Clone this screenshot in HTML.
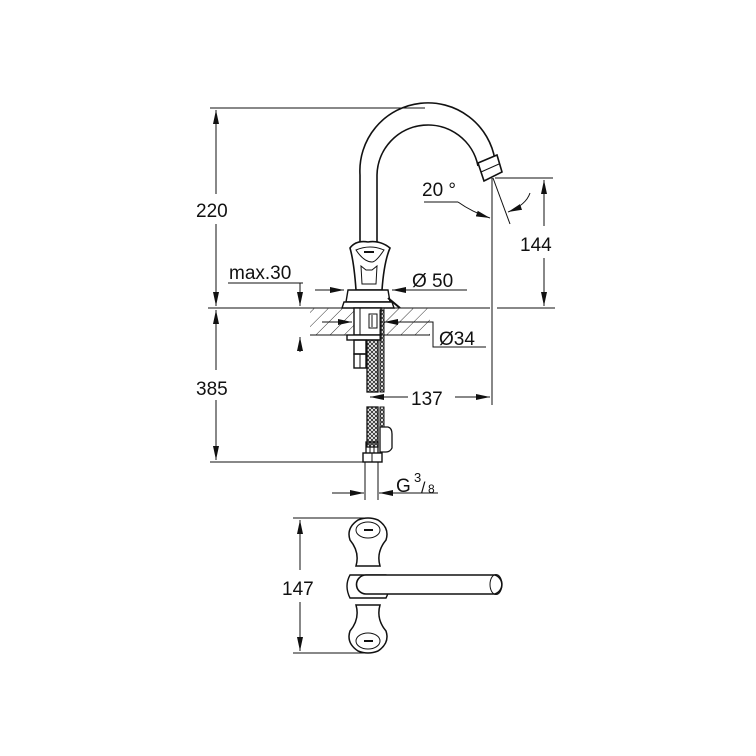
<!DOCTYPE html>
<html><head><meta charset="utf-8"><style>
html,body{margin:0;padding:0;background:#fff}
svg{display:block}
text{font-family:"Liberation Sans",sans-serif;fill:#111}
</style></head><body>
<svg width="756" height="756" viewBox="0 0 756 756" xmlns="http://www.w3.org/2000/svg">
<defs>
<marker id="a" viewBox="0 0 14 8" refX="14" refY="4" markerWidth="14" markerHeight="8" orient="auto-start-reverse" markerUnits="userSpaceOnUse"><path d="M0,1 L14,4 L0,7z" fill="#111"/></marker>
<pattern id="h" width="10" height="10" patternUnits="userSpaceOnUse" patternTransform="rotate(45)"><line x1="0" y1="0" x2="0" y2="10" stroke="#333" stroke-width="1"/></pattern>
<pattern id="x" width="4" height="4" patternUnits="userSpaceOnUse"><path d="M0,0L4,4M4,0L0,4" stroke="#222" stroke-width="0.8"/></pattern>
</defs>
<g stroke="#111" stroke-width="1" fill="none">
<line x1="210" y1="108" x2="425" y2="108"/>
<line x1="216" y1="110" x2="216" y2="194" marker-start="url(#a)"/>
<line x1="216" y1="224" x2="216" y2="306" marker-end="url(#a)"/>
<line x1="208" y1="308" x2="490" y2="308"/>
<line x1="497" y1="308" x2="555" y2="308"/>
<line x1="216" y1="310" x2="216" y2="370" marker-start="url(#a)"/>
<line x1="216" y1="400" x2="216" y2="460" marker-end="url(#a)"/>
<line x1="210" y1="462" x2="366" y2="462"/>
<path d="M360,242 L360,175 A68,68 0 0 1 495,160 L498,160" stroke-width="1.6"/>
<path d="M377,242 L377,175 A51,51 0 0 1 478,166" stroke-width="1.6"/>
<path d="M478,163 L497,155 L502,172 L484,181 Z" stroke-width="1.6" fill="#fff"/>
<line x1="481" y1="172" x2="499" y2="164"/>
<line x1="492" y1="178" x2="492" y2="405"/>
<line x1="495" y1="178" x2="553" y2="178"/>
<line x1="544" y1="180" x2="544" y2="226" marker-start="url(#a)"/>
<line x1="544" y1="258" x2="544" y2="306" marker-end="url(#a)"/>
<line x1="493" y1="178" x2="510" y2="224"/>
<line x1="424" y1="202" x2="458" y2="202"/>
<path d="M458,202 Q472,212 490,218" marker-end="url(#a)"/>
<path d="M530,193 Q526,205 508,212" marker-end="url(#a)"/>
<path d="M350,248 Q356,240 368,242 Q380,240 390,248 Q384,262 382,290 L356,290 Q354,262 350,248 Z" stroke-width="1.6" fill="#fff"/>
<path d="M356,250 Q370,244 384,250 Q376,262 372,262 Q364,262 356,250Z"/>
<line x1="364" y1="252" x2="374" y2="252" stroke-width="2"/>
<path d="M361,266 L366,270 L372,270 L377,266 L376,284 L362,284 Z"/>
<path d="M348,290 L388,290 L390,302 L346,302 Z" stroke-width="1.4" fill="#fff"/>
<path d="M344,302 L392,302 L394,308 L342,308Z" stroke-width="1.4" fill="#fff"/>
<line x1="388" y1="298" x2="400" y2="308" stroke-width="2"/>
<line x1="228" y1="283" x2="303" y2="283"/>
<line x1="300" y1="283" x2="300" y2="306" marker-end="url(#a)"/>
<line x1="300" y1="352" x2="300" y2="337" marker-end="url(#a)"/>
<line x1="315" y1="290" x2="344" y2="290" marker-end="url(#a)"/>
<line x1="467" y1="290" x2="392" y2="290" marker-end="url(#a)"/>
<rect x="310" y="308" width="120" height="27" fill="url(#h)" stroke="none"/>
<line x1="310" y1="335" x2="430" y2="335"/>
<rect x="354" y="308" width="27" height="27" fill="#fff" stroke-width="1.4"/>
<line x1="360" y1="308" x2="360" y2="335"/>
<rect x="369" y="314" width="8" height="14"/>
<line x1="372" y1="315" x2="372" y2="327"/>
<line x1="322" y1="322" x2="352" y2="322" marker-end="url(#a)"/>
<line x1="430" y1="322" x2="384" y2="322" marker-end="url(#a)"/>
<polyline points="430,322 433,322 433,347 486,347"/>
<rect x="347" y="335" width="34" height="5" fill="#fff" stroke-width="1.4"/>
<rect x="354" y="340" width="12" height="14" stroke-width="1.4"/>
<rect x="354" y="354" width="12" height="14" stroke-width="1.4"/>
<line x1="360" y1="354" x2="360" y2="368"/>
<rect x="367" y="340" width="11" height="52" fill="url(#x)" stroke-width="1.3"/>
<rect x="380" y="310" width="4" height="82" fill="url(#x)" stroke-width="1"/>
<rect x="367" y="407" width="11" height="40" fill="url(#x)" stroke-width="1.3"/>
<rect x="380" y="407" width="4" height="20" fill="url(#x)" stroke-width="1"/>
<path d="M380,427 L388,427 Q392,428 392,434 L392,448 Q390,452 386,452 L380,452 Z" stroke-width="1.3" fill="#fff"/>
<rect x="366" y="442" width="12" height="12" stroke-width="1.3"/>
<line x1="370" y1="442" x2="370" y2="454"/><line x1="374" y1="442" x2="374" y2="454"/>
<rect x="363" y="453" width="19" height="9" stroke-width="1.4" fill="#fff"/>
<line x1="372" y1="453" x2="372" y2="462"/>
<line x1="408" y1="397" x2="370" y2="397" marker-end="url(#a)"/>
<line x1="455" y1="397" x2="490" y2="397" marker-end="url(#a)"/>
<line x1="365" y1="462" x2="365" y2="500"/>
<line x1="378" y1="462" x2="378" y2="500"/>
<line x1="332" y1="493" x2="364" y2="493" marker-end="url(#a)"/>
<line x1="438" y1="493" x2="379" y2="493" marker-end="url(#a)"/>
<line x1="293" y1="518" x2="370" y2="518"/>
<line x1="293" y1="653" x2="370" y2="653"/>
<line x1="300" y1="520" x2="300" y2="570" marker-start="url(#a)"/>
<line x1="300" y1="602" x2="300" y2="651" marker-end="url(#a)"/>
<path d="M350,575 Q344,586 350,598 L386,598 Q392,586 386,575Z" stroke-width="1.4" fill="#fff"/>
<path d="M358,520 Q368,516 378,520 Q390,528 386,540 Q376,552 380,566 L356,566 Q360,552 350,540 Q346,528 358,520Z" stroke-width="1.5" fill="#fff"/>
<ellipse cx="368" cy="530" rx="12" ry="8"/>
<line x1="364" y1="530" x2="373" y2="530" stroke-width="2"/>
<path d="M358,651 Q368,655 378,651 Q390,643 386,631 Q376,619 380,605 L356,605 Q360,619 350,631 Q346,643 358,651Z" stroke-width="1.5" fill="#fff"/>
<ellipse cx="368" cy="641" rx="12" ry="8"/>
<line x1="364" y1="641" x2="373" y2="641" stroke-width="2"/>
<path d="M366,575 L495,575 A10,10 0 0 1 495,594 L366,594 A9.5,9.5 0 0 1 366,575Z" stroke-width="1.6" fill="#fff"/>
<ellipse cx="496" cy="584.5" rx="6" ry="10"/>
</g>
<g font-size="19">
<text x="196" y="217">220</text>
<text x="196" y="395">385</text>
<text x="520" y="251">144</text>
<text x="422" y="196">20 °</text>
<text x="229" y="279">max.30</text>
<text x="412" y="287">Ø 50</text>
<text x="439" y="345">Ø34</text>
<text x="411" y="405">137</text>
<text x="396" y="492">G</text>
<text x="414" y="482" font-size="13">3</text>
<text x="421" y="493" font-size="16">/</text>
<text x="428" y="493" font-size="12">8</text>
<text x="282" y="595">147</text>
</g>
</svg>
</body></html>
